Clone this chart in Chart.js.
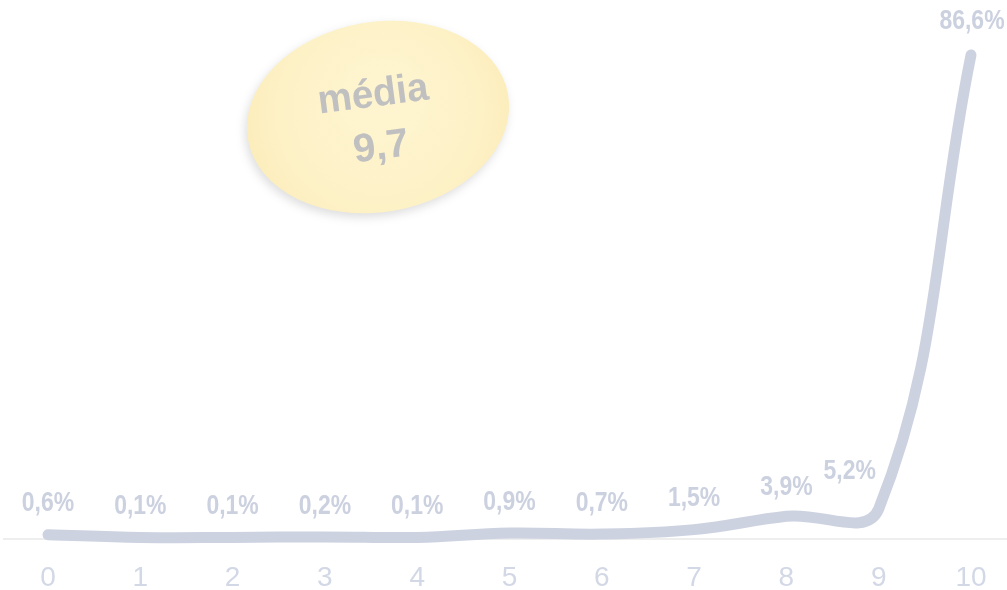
<!DOCTYPE html>
<html>
<head>
<meta charset="utf-8">
<script src="https://cdn.jsdelivr.net/npm/chart.js@4.4.1/dist/chart.umd.min.js"></script>
<style>
html,body{margin:0;padding:0;background:#ffffff;}
#wrap{width:1007px;height:590px;position:relative;}
</style>
</head>
<body>
<div id="wrap"><canvas id="c" width="1007" height="590"></canvas></div>
<script>
const categories = ['0','1','2','3','4','5','6','7','8','9','10'];
const shares = [0.6, 0.1, 0.1, 0.2, 0.1, 0.9, 0.7, 1.5, 3.9, 5.2, 86.6];
const valueLabels = ['0,6%','0,1%','0,1%','0,2%','0,1%','0,9%','0,7%','1,5%','3,9%','5,2%','86,6%'];
const averageText = ['média', '9,7'];

const SANS = "'Liberation Sans', Arial, sans-serif";

function narrowText(ctx, text, x, y, squeeze) {
  ctx.save();
  ctx.translate(x, y);
  ctx.scale(squeeze, 1);
  ctx.fillText(text, 0, 0);
  ctx.restore();
}

const baselinePlugin = {
  id: 'baseline',
  beforeDatasetsDraw(chart) {
    const ctx = chart.ctx;
    const y = chart.scales.y.getPixelForValue(0);
    ctx.save();
    ctx.strokeStyle = '#eeeeee';
    ctx.lineWidth = 2;
    ctx.beginPath();
    ctx.moveTo(3, y + 1);
    ctx.lineTo(chart.width, y + 1);
    ctx.stroke();
    ctx.restore();
  }
};

const labelPlugin = {
  id: 'valueLabels',
  afterDatasetsDraw(chart) {
    const ctx = chart.ctx;
    const meta = chart.getDatasetMeta(0);
    ctx.save();
    ctx.font = "bold 28px " + SANS;
    ctx.fillStyle = '#ccd1e0';
    ctx.textAlign = 'center';
    ctx.textBaseline = 'middle';
    meta.data.forEach((pt, i) => {
      let dx = 0, dy = -31;
      if (i === 8) { dy = -29; }
      if (i === 9) { dx = -29; dy = -38; }
      if (i === 10) { dx = 1; dy = -34; }
      narrowText(ctx, valueLabels[i], pt.x + dx, pt.y + dy, 0.82);
    });
    ctx.restore();
  }
};

const ellipsePlugin = {
  id: 'average',
  afterDraw(chart) {
    const ctx = chart.ctx;
    ctx.save();
    ctx.translate(378, 117);
    ctx.rotate(-0.17);
    ctx.shadowColor = 'rgba(0,0,0,0.13)';
    ctx.shadowBlur = 10;
    ctx.shadowOffsetX = -2;
    ctx.shadowOffsetY = 4;
    const g = ctx.createRadialGradient(10, -20, 10, 0, 0, 140);
    g.addColorStop(0, '#fef5d0');
    g.addColorStop(0.7, '#fdf1c6');
    g.addColorStop(1, '#fcecb9');
    ctx.fillStyle = g;
    ctx.beginPath();
    ctx.ellipse(0, 0, 132, 95, 0, 0, Math.PI * 2);
    ctx.fill();
    ctx.restore();

    ctx.save();
    ctx.translate(378, 117);
    ctx.rotate(-0.13);
    ctx.fillStyle = '#c0c0c0';
    ctx.font = "bold 40px " + SANS;
    ctx.textAlign = 'center';
    ctx.textBaseline = 'middle';
    narrowText(ctx, averageText[0], -2, -22, 0.96);
    narrowText(ctx, averageText[1], -1, 31, 1);
    ctx.restore();
  }
};

new Chart(document.getElementById('c'), {
  type: 'line',
  data: {
    labels: categories,
    datasets: [{
      data: shares,
      borderColor: '#cdd2e1',
      borderWidth: 11,
      borderCapStyle: 'round',
      borderJoinStyle: 'round',
      tension: 0.4,
      pointRadius: 0,
      fill: false,
      clip: false
    }]
  },
  options: {
    responsive: false,
    animation: false,
    devicePixelRatio: 1,
    layout: { padding: { left: 48, right: 36, top: 55, bottom: -28 } },
    plugins: { legend: { display: false }, tooltip: { enabled: false } },
    scales: {
      x: {
        offset: false,
        grid: { display: false, drawTicks: false },
        border: { display: false },
        afterFit(scale) { scale.paddingLeft = 0; scale.paddingRight = 0; },
        ticks: {
          padding: 26,
          maxRotation: 0,
          autoSkip: false,
          color: '#d3d8e6',
          font: { family: SANS, size: 28, lineHeight: 1 }
        }
      },
      y: {
        display: false,
        min: 0,
        max: 86.6
      }
    }
  },
  plugins: [baselinePlugin, labelPlugin, ellipsePlugin]
});
</script>
</body>
</html>
